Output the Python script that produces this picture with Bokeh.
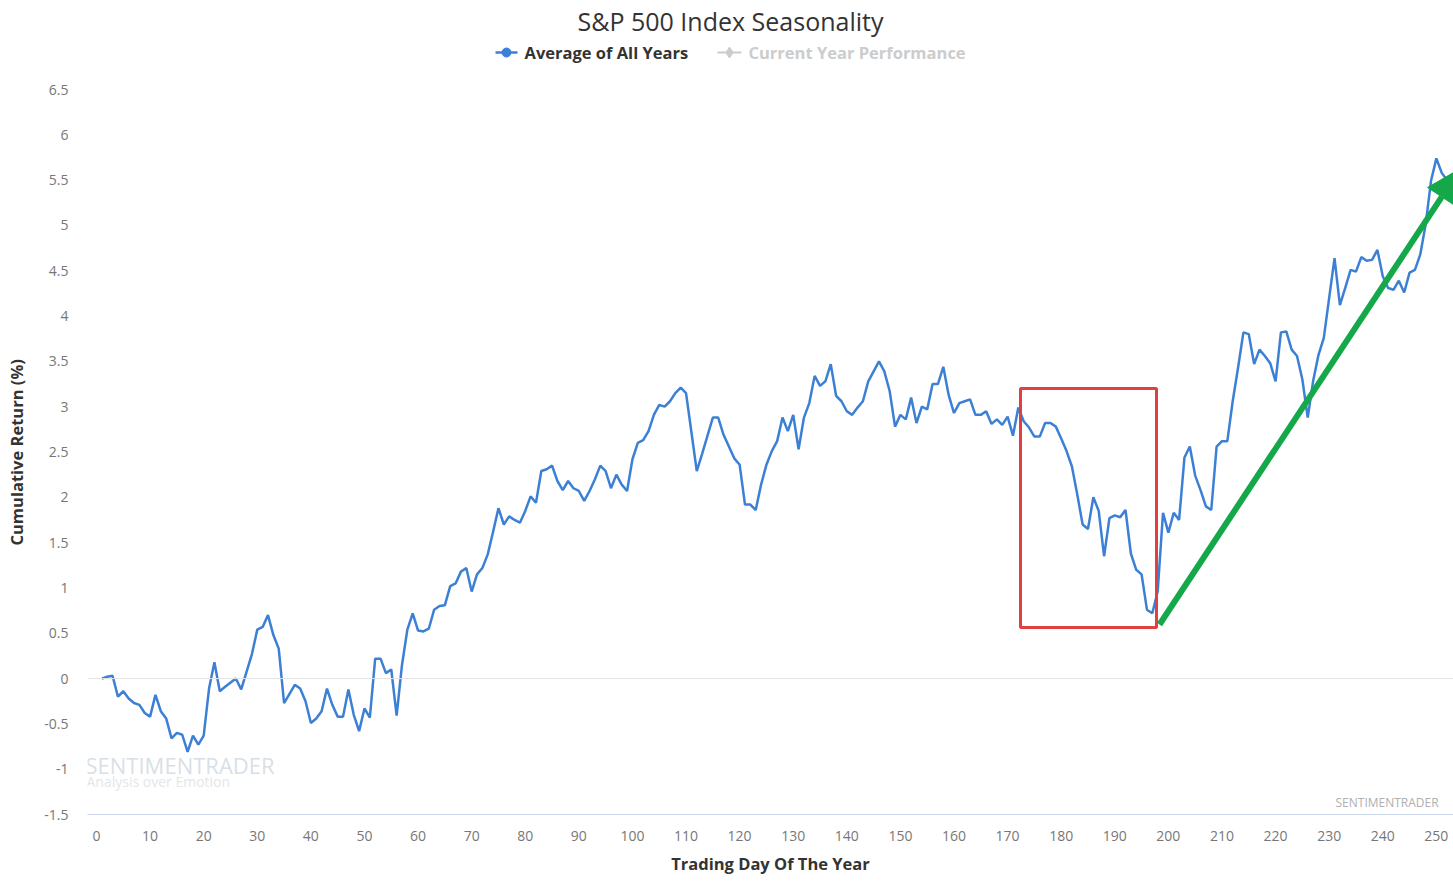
from bokeh.plotting import figure
from bokeh.models import (FixedTicker, CustomJSTickFormatter, Span, BoxAnnotation, Arrow,
                          NormalHead, Label, Title, ColumnDataSource)
from bokeh.embed import file_html
from bokeh.resources import INLINE

# ---------------- data ----------------
days = [1, 2, 3, 4, 5, 6, 7, 8, 9, 10, 11, 12, 13, 14, 15, 16, 17, 18, 19, 20,
        21, 22, 23, 24, 26, 27, 29, 30, 31, 32, 33, 34, 35, 37, 38, 39, 40,
        41, 42, 43, 44, 45, 46, 47, 48, 49, 50, 51, 52, 53, 54, 55, 56, 57, 58, 59, 60,
        61, 62, 63, 64, 65, 66, 67, 68, 69, 70, 71, 72, 73, 74, 75, 76, 77, 78, 79, 80,
        81, 82, 83, 84, 85, 86, 87, 88, 89, 90, 91, 92, 93, 94, 95, 96, 97, 98, 99, 100,
        101, 102, 103, 104, 105, 106, 107, 108, 109, 110, 112, 113, 115, 116, 117, 119, 120,
        121, 122, 123, 124, 125, 126, 127, 128, 129, 130, 131, 132, 133, 134, 135, 136, 137,
        138, 139, 140, 141, 142, 143, 144, 145, 146, 147, 148, 149, 150, 151, 152, 153, 154,
        155, 156, 157, 158, 159, 160, 161, 162, 163, 164, 165, 166, 167, 168, 169, 170, 171,
        172, 173, 174, 175, 176, 177, 178, 179, 180, 181, 182, 183, 184, 185, 186, 187, 188,
        189, 190, 191, 192, 193, 194, 195, 196, 197, 198, 199, 200, 201, 202, 203, 204, 205,
        206, 207, 208, 209, 210, 211, 212, 213, 214, 215, 216, 217, 218, 219, 220, 221, 222,
        223, 224, 225, 226, 227, 228, 229, 230, 231, 232, 233, 234, 235, 236, 237, 238, 239,
        240, 241, 242, 243, 244, 245, 246, 247, 248, 249, 250, 251, 252]
avg_return = [0.00, 0.02, 0.03, -0.20, -0.14, -0.22, -0.27, -0.29, -0.38, -0.42, -0.18, -0.36,
              -0.44, -0.66, -0.60, -0.62, -0.81, -0.63, -0.73, -0.63,
              -0.11, 0.18, -0.14, -0.09, 0.00, -0.12, 0.27, 0.54, 0.57, 0.70, 0.48, 0.33, -0.27,
              -0.07, -0.11, -0.25, -0.49,
              -0.44, -0.36, -0.11, -0.29, -0.42, -0.42, -0.12, -0.40, -0.58, -0.33, -0.43, 0.22,
              0.22, 0.06, 0.10, -0.41, 0.15, 0.54, 0.72, 0.53,
              0.52, 0.55, 0.76, 0.80, 0.81, 1.02, 1.05, 1.18, 1.22, 0.96, 1.15, 1.22, 1.37, 1.62,
              1.88, 1.70, 1.79, 1.75, 1.72, 1.85,
              2.01, 1.94, 2.29, 2.31, 2.35, 2.18, 2.08, 2.18, 2.10, 2.07, 1.96, 2.07, 2.20, 2.35,
              2.29, 2.10, 2.25, 2.14, 2.07, 2.42,
              2.60, 2.63, 2.73, 2.91, 3.02, 3.00, 3.06, 3.15, 3.21, 3.15, 2.29, 2.48, 2.88, 2.88,
              2.69, 2.43, 2.36,
              1.92, 1.92, 1.86, 2.14, 2.36, 2.51, 2.62, 2.88, 2.73, 2.91, 2.53, 2.88, 3.04, 3.34,
              3.23, 3.28, 3.47,
              3.12, 3.06, 2.95, 2.91, 2.99, 3.06, 3.28, 3.39, 3.50, 3.39, 3.17, 2.78, 2.91, 2.86,
              3.10, 2.82, 3.00,
              2.97, 3.25, 3.25, 3.44, 3.13, 2.93, 3.04, 3.06, 3.08, 2.91, 2.91, 2.95, 2.81, 2.86,
              2.80, 2.89, 2.68,
              2.99, 2.84, 2.77, 2.67, 2.67, 2.82, 2.82, 2.78, 2.65, 2.51, 2.34, 2.03, 1.70, 1.65,
              2.00, 1.85, 1.35,
              1.77, 1.80, 1.78, 1.86, 1.38, 1.20, 1.15, 0.76, 0.72, 0.96, 1.83, 1.61, 1.83, 1.75,
              2.44, 2.56, 2.24,
              2.08, 1.90, 1.86, 2.56, 2.62, 2.62, 3.06, 3.43, 3.82, 3.80, 3.47, 3.63, 3.56, 3.48,
              3.28, 3.82, 3.83,
              3.63, 3.56, 3.30, 2.88, 3.28, 3.57, 3.76, 4.20, 4.64, 4.12, 4.31, 4.51, 4.49, 4.65,
              4.61, 4.62, 4.73,
              4.44, 4.31, 4.29, 4.39, 4.26, 4.48, 4.51, 4.68, 5.01, 5.49, 5.74, 5.58, 5.50]

x_ticks = list(range(0, 251, 10))
y_ticks = [-1.5, -1, -0.5, 0, 0.5, 1, 1.5, 2, 2.5, 3, 3.5, 4, 4.5, 5, 5.5, 6, 6.5]

series_name = "Average of All Years"
hidden_series_name = "Current Year Performance"
chart_title = "S&P 500 Index Seasonality"

# ---------------- layout helpers (pixel -> data) ----------------
W, H = 1453, 880
FRAME_L, FRAME_R, FRAME_B = 87, 1453, 814
X0, X1 = -1.68, 253.2
Y_LOW, Y_AT_89 = -1.5, 6.5
ypx = (FRAME_B - 89) / (Y_AT_89 - Y_LOW)          # pixels per unit
Y_TOP = Y_AT_89 + 89 / ypx                         # frame reaches top of canvas
xpx = (FRAME_R - FRAME_L) / (X1 - X0)


def dx(px):
    return X0 + (px - FRAME_L) / xpx


def dy(py):
    return Y_LOW + (FRAME_B - py) / ypx


FONT = "Open Sans"
BLUE = "#3c80d6"
GREEN = "#14a84a"
RED = "#e0403f"
GRAY_TXT = "#777777"

p = figure(width=W, height=H, x_range=(X0, X1), y_range=(Y_LOW, Y_TOP),
           output_backend="svg", toolbar_location=None,
           min_border_left=FRAME_L, min_border_right=0, min_border_top=0,
           min_border_bottom=H - FRAME_B,
           outline_line_color=None, background_fill_color="white", border_fill_color="white")
p.xgrid.visible = False
p.ygrid.visible = False

# zero line
p.add_layout(Span(location=0, dimension="width", line_color="#e3e3e3", line_width=1))

# main series
src = ColumnDataSource(dict(day=days, ret=avg_return))
p.line("day", "ret", source=src, line_color=BLUE, line_width=2.5)

# title
p.add_layout(Label(x=dx(730), y=dy(20), text=chart_title, text_font=FONT, text_font_size="25px",
                   text_color="#333333", text_align="center", text_baseline="middle"))

# legend (drawn by hand)
ly = dy(52)
p.line([dx(495), dx(517)], [ly, ly], line_color=BLUE, line_width=2.5)
p.scatter([dx(506)], [ly], marker="circle", size=9, fill_color=BLUE, line_color=BLUE)
p.add_layout(Label(x=dx(524), y=ly, text=series_name, text_font=FONT, text_font_size="16.5px",
                   text_font_style="bold", text_color="#333333", text_baseline="middle"))
p.line([dx(717), dx(741)], [ly, ly], line_color="#cccccc", line_width=2)
p.scatter([dx(729)], [ly], marker="diamond", size=11, fill_color="#cccccc", line_color="#cccccc")
p.add_layout(Label(x=dx(748), y=ly, text=hidden_series_name, text_font=FONT,
                   text_font_size="16.5px", text_font_style="bold", text_color="#cccccc",
                   text_baseline="middle"))

# axes
xa = p.xaxis[0]
xa.ticker = FixedTicker(ticks=x_ticks)
xa.axis_label = "Trading Day Of The Year"
xa.axis_label_text_font = FONT
xa.axis_label_text_font_size = "16.5px"
xa.axis_label_text_font_style = "bold"
xa.axis_label_text_color = "#333333"
xa.axis_label_standoff = 8
xa.major_label_text_font = FONT
xa.major_label_text_font_size = "14px"
xa.major_label_text_color = GRAY_TXT
xa.major_label_standoff = 16
xa.axis_line_color = "#ccd6eb"
xa.major_tick_line_color = None
xa.minor_tick_line_color = None
xa.major_tick_out = 0
xa.major_tick_in = 0

ya = p.yaxis[0]
ya.ticker = FixedTicker(ticks=y_ticks)
ya.formatter = CustomJSTickFormatter(code="return tick.toString();")
ya.major_label_text_font = FONT
ya.major_label_text_font_size = "14px"
ya.major_label_text_color = GRAY_TXT
ya.major_label_standoff = 19
ya.axis_line_color = None
ya.major_tick_line_color = None
ya.minor_tick_line_color = None
ya.major_tick_out = 0
ya.major_tick_in = 0
# blank spacer label widens the axis panel so the title sits further left
ya.axis_label = " "
ya.axis_label_text_font_size = "1px"
ya.axis_label_standoff = 10

# y axis title: a left-side title, its start placed where the reference text begins
p.add_layout(Title(text="Cumulative Return (%)", align="left", offset=FRAME_B - 545,
                   text_font=FONT, text_font_size="16.5px", text_font_style="bold",
                   text_color="#333333", standoff=0), "left")

# watermark texts
p.add_layout(Label(x=dx(85), y=dy(764), text="SENTIMENTRADER", text_font=FONT,
                   text_font_size="22px", text_color="#d9dfe6", text_baseline="middle"))
p.add_layout(Label(x=dx(86), y=dy(781), text="Analysis over Emotion", text_font=FONT,
                   text_font_size="14px", text_color="#e3e6ea", text_baseline="middle"))
p.add_layout(Label(x=dx(1335), y=dy(802), text="SENTIMENTRADER", text_font=FONT,
                   text_font_size="12px", text_color="#b0b0b0", text_baseline="middle"))

# red highlight box
p.add_layout(BoxAnnotation(left=dx(1020), right=dx(1156), top=dy(388), bottom=dy(627),
                           fill_alpha=0, line_color=RED, line_alpha=1, line_width=3))

# green arrow
p.add_layout(Arrow(end=NormalHead(size=34, fill_color=GREEN, line_color=GREEN),
                   x_start=dx(1159), y_start=dy(624), x_end=dx(1460), y_end=dy(168),
                   line_color=GREEN, line_width=6))

open("out.html", "w").write(file_html(p, INLINE))
